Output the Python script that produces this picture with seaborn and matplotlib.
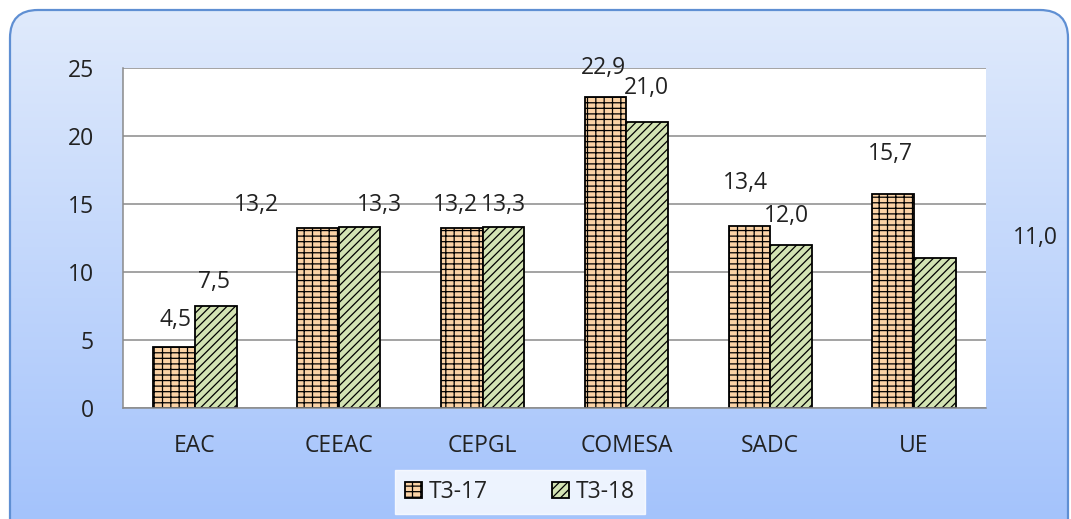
import matplotlib

matplotlib.use("Agg")
import matplotlib.pyplot as plt
import numpy as np
import pandas as pd
import seaborn as sns
from matplotlib.colors import LinearSegmentedColormap
from matplotlib.patches import FancyBboxPatch
from matplotlib.ticker import FixedLocator

categories = ["EAC", "CEEAC", "CEPGL", "COMESA", "SADC", "UE"]
series = ["T3-17", "T3-18"]
t3_17 = [4.5, 13.2, 13.2, 22.9, 13.4, 15.7]
t3_18 = [7.5, 13.3, 13.3, 21.0, 12.0, 11.0]
y_ticks = [0, 5, 10, 15, 20, 25]

# label nudges in pixels (dx, dy above bar top), Excel put some of them oddly
offsets_17 = [(1, 27), (-61, 23), (-6, 23), (-2, 29), (-4, 43), (-3, 40)]
offsets_18 = [(-2, 24), (20, 22), (0, 22), (-1, 34), (-5, 29), (100, 20)]

df = pd.DataFrame({
    "cat": categories * 2,
    "serie": [series[0]] * len(categories) + [series[1]] * len(categories),
    "val": t3_17 + t3_18,
})

sns.set_theme(style="white")
plt.rcParams["font.family"] = ["Open Sans", "DejaVu Sans"]
plt.rcParams["hatch.linewidth"] = 0.9

W, H = 1071, 519
FS = 16.5
fig = plt.figure(figsize=(W / 100, H / 100), dpi=100, facecolor="white")

# rounded gradient background
bg = fig.add_axes([0, 0, 1, 1], zorder=-10)
bg.set_xlim(0, W)
bg.set_ylim(0, H)
bg.axis("off")
cmap = LinearSegmentedColormap.from_list("bg", ["#a4c3fb", "#e1ebfc"])
grad = np.linspace(0, 1, 256).reshape(-1, 1)
im = bg.imshow(grad, cmap=cmap, extent=[0, W, 0, H], origin="lower", aspect="auto")
box = FancyBboxPatch((10, -30), 1058, 539, boxstyle="round,pad=0,rounding_size=28",
                     facecolor="none", edgecolor="#5f8fd3", lw=1.6)
bg.add_patch(box)
im.set_clip_path(box)

ax = fig.add_axes([123 / W, (H - 408) / H, 863 / W, 340 / H])
ax.set_facecolor("white")
sns.barplot(data=df, x="cat", y="val", hue="serie", width=0.58, ax=ax,
            palette=["#fbd3a6", "#d3e3b3"], edgecolor="black", linewidth=1.3,
            saturation=1, legend=False)

hatches = ["---||", "////"]
hatch_cols = ["#3a2a1a", "#38482a"]
for cont, hatch, hc in zip(ax.containers, hatches, hatch_cols):
    for p in cont.patches:
        p.set_hatch(hatch)
        if hasattr(p, "set_hatchcolor"):
            p.set_hatchcolor(hc)

for cont, vals, offs in zip(ax.containers, [t3_17, t3_18], [offsets_17, offsets_18]):
    for p, v, (dx, dy) in zip(cont.patches, vals, offs):
        ax.annotate(f"{v:.1f}".replace(".", ","), (p.get_x() + p.get_width() / 2, v),
                    xytext=(dx, dy), textcoords="offset pixels", ha="center", va="center",
                    fontsize=FS, color="#222222", annotation_clip=False)

ax.set_ylim(0, 25)
ax.set_xlim(-0.5, len(categories) - 0.5)
ax.set_yticks(y_ticks)
ax.yaxis.grid(True, color="#8a8a8a", lw=1.1)
ax.set_axisbelow(True)
ax.set_xlabel("")
ax.set_ylabel("")
for side in ["top", "right"]:
    ax.spines[side].set_visible(False)
for side in ["left", "bottom"]:
    ax.spines[side].set_color("#8a8a8a")
    ax.spines[side].set_linewidth(1.1)
ax.tick_params(axis="y", length=6, color="#8a8a8a", labelsize=FS, labelcolor="#222222", pad=15)
ax.tick_params(axis="x", length=0, labelsize=FS, labelcolor="#222222", pad=19)
ax.xaxis.set_minor_locator(FixedLocator(np.arange(-0.5, len(categories), 1)))
ax.tick_params(axis="x", which="minor", length=6, color="#8a8a8a")

handles = [ax.containers[0].patches[0], ax.containers[1].patches[0]]
leg = fig.legend(handles, series, loc="center", bbox_to_anchor=(520 / W, (H - 492) / H),
                 ncol=2, frameon=True, fontsize=FS, handlelength=0.75, handleheight=0.75,
                 handletextpad=0.3, columnspacing=2.8, borderpad=0.45, borderaxespad=0,
                 fancybox=False)
leg.get_frame().set_facecolor("white")
leg.get_frame().set_edgecolor("white")
for t in leg.get_texts():
    t.set_color("#222222")

fig.savefig("out.png", dpi=100)
